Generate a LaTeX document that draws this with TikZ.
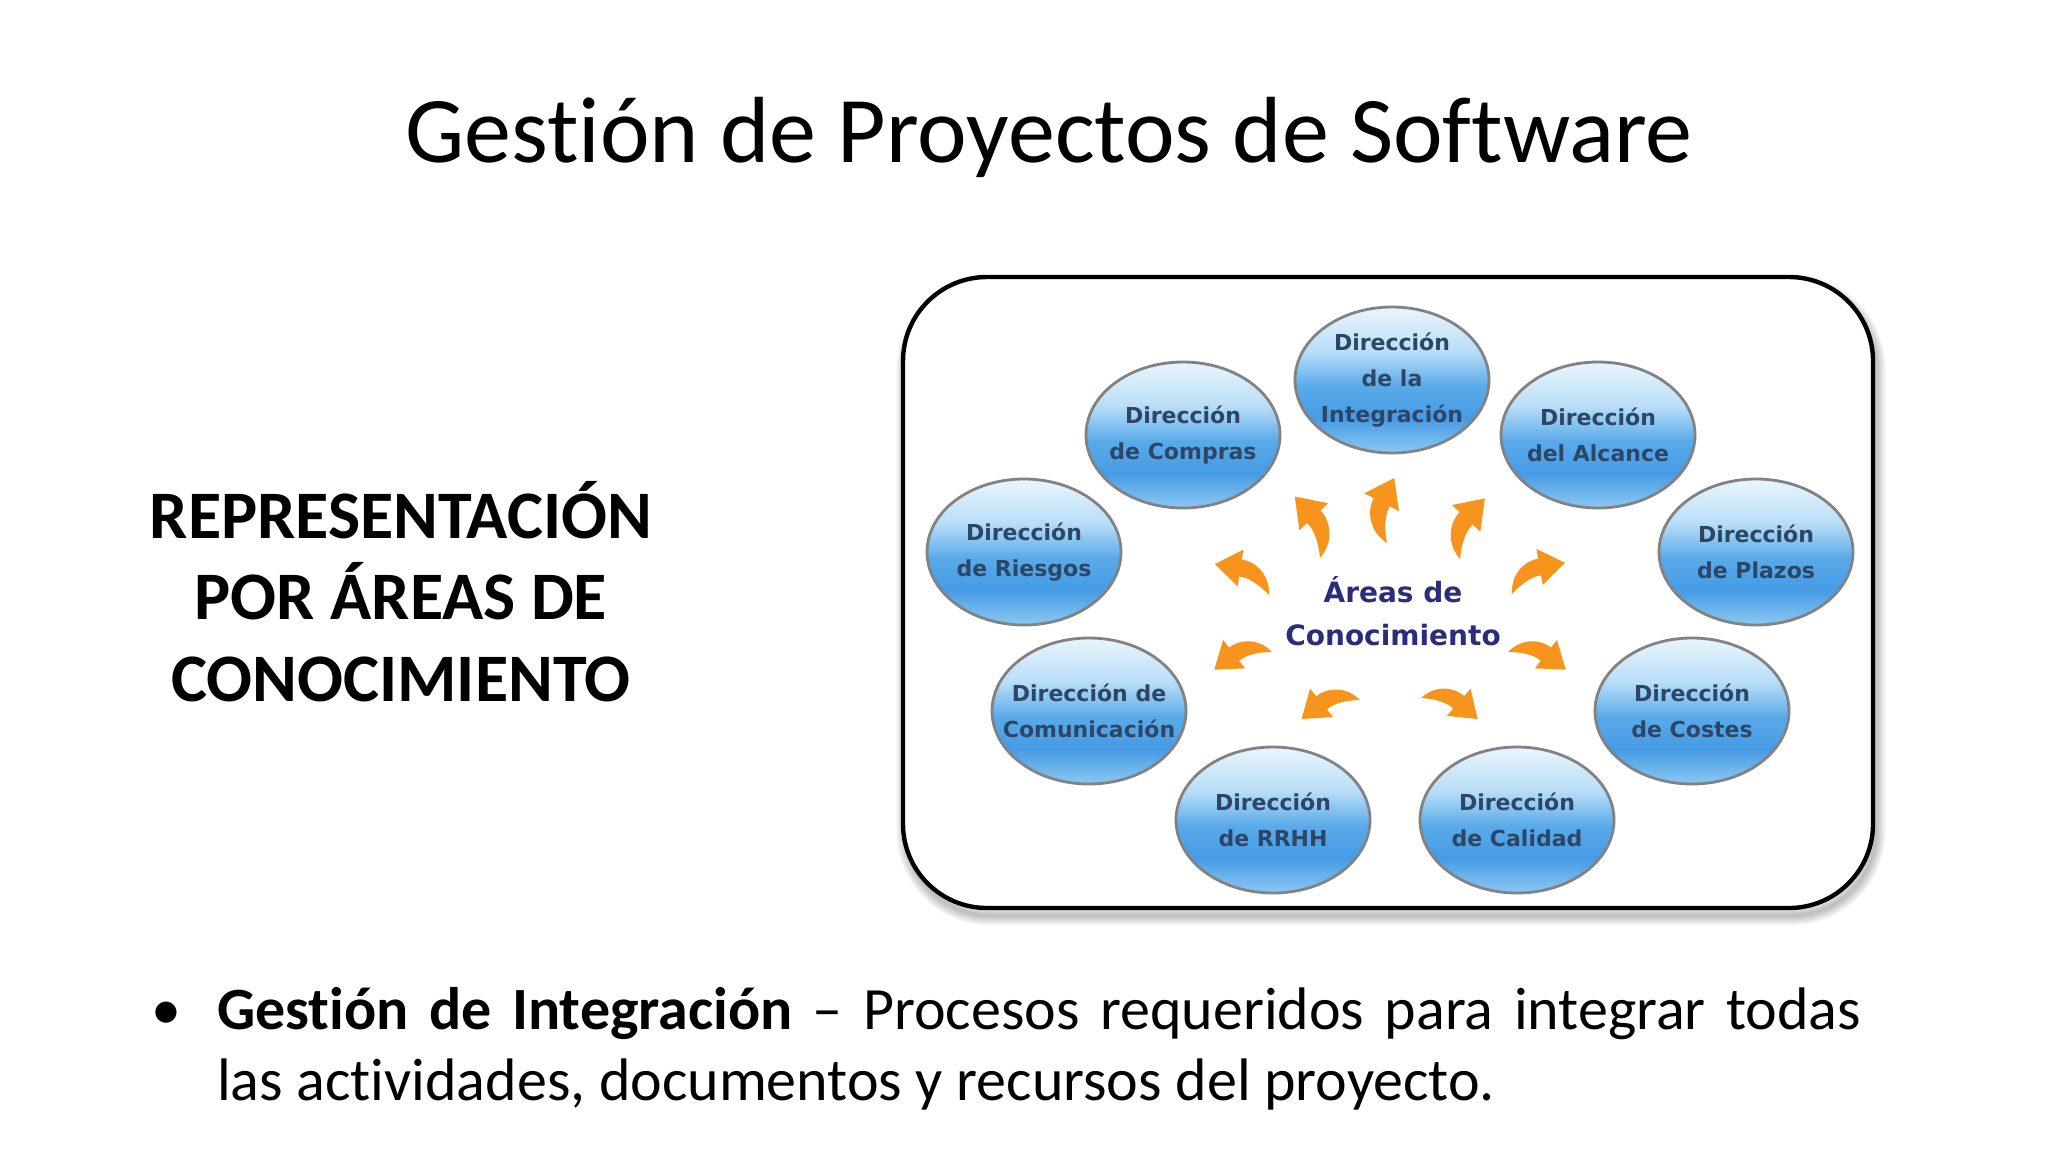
\documentclass[tikz,border=0pt]{standalone}
\usepackage{fontspec}
\setmainfont{Carlito}[Ligatures=NoCommon]
\newfontfamily\ballfont{DejaVu Sans}
\usetikzlibrary{shapes.geometric}
\definecolor{ballText}{RGB}{45,70,102}
\definecolor{navyText}{RGB}{42,46,122}
\definecolor{arrowOr}{RGB}{247,148,30}
\definecolor{ballEdge}{RGB}{130,130,130}
\definecolor{bBot}{RGB}{140,200,242}
\definecolor{bLow}{RGB}{70,155,228}
\definecolor{bMid}{RGB}{90,170,233}
\definecolor{bUp}{RGB}{185,222,248}
\definecolor{bTop}{RGB}{234,245,252}
\pgfdeclareverticalshading{ballshade}{100bp}{color(0bp)=(bBot); color(25bp)=(bBot); color(37bp)=(bLow); color(48bp)=(bMid); color(60bp)=(bUp); color(75bp)=(bTop); color(100bp)=(bTop)}
\tikzset{
  ball/.style={ellipse, draw=ballEdge, line width=1.4pt, shading=ballshade,
    minimum width=97pt, minimum height=73pt, inner sep=0pt, inner xsep=-3pt, align=center,
    font=\ballfont\bfseries\fontsize{11}{18}\selectfont, text=ballText},
  centertext/.style={align=center, text=navyText,
    font=\ballfont\bfseries\fontsize{14}{21.5}\selectfont},
  framebox/.style={rounded corners=42pt, minimum width=485pt, minimum height=315.5pt, inner sep=0pt},
  lefttext/.style={anchor=base, font=\bfseries\fontsize{34}{40}\selectfont},
  bodytext/.style={anchor=base west, font=\fontsize{30}{36}\selectfont},
  carrow/.pic={
    \fill[arrowOr, yscale=-1] (0,0) .. controls (0.12,0.3) and (0.42,0.4) .. (0.639,0.334)
      -- (0.684,0.488) -- (1.003,0.082) -- (0.516,-0.088) -- (0.561,0.066)
      .. controls (0.42,0.12) and (0.2,0.08) .. (0,0) -- cycle;
  }
}
\begin{document}
\begin{tikzpicture}[x=0.5pt,y=-0.5pt]
\useasboundingbox[fill=white] (0,0) rectangle (2048,1152);

% title
\node[anchor=base, font=\fontsize{47}{56}\selectfont] (title) at (1049,162) {Gestión de Proyectos de Software};

% left text
\node[lefttext] (lt1) at (401,538) {REPRESENTACIÓN};
\node[lefttext] (lt2) at (401,619) {POR ÁREAS DE};
\node[lefttext] (lt3) at (401,701) {CONOCIMIENTO};

% frame shadow and frame
\foreach \i in {1,...,6}
  \node[framebox, draw=black, draw opacity=0.045, line width=\i*1.6pt] (sh\i) at (1391,600) {};
\node[framebox, draw=black, fill=white, line width=2.2pt] (frame) at (1388,592.5) {};

% ellipses
\node[ball] (integ) at (1392,380) {Dirección\\de la\\Integración};
\node[ball] (comp)  at (1183,435) {Dirección\\de Compras};
\node[ball] (alc)   at (1598,435) {Dirección\\del Alcance};
\node[ball] (ries)  at (1024,552) {Dirección\\de Riesgos};
\node[ball] (plaz)  at (1756,552) {Dirección\\de Plazos};
\node[ball, inner xsep=-13pt] (comu)  at (1089,711) {Dirección de\\Comunicación};
\node[ball] (cost)  at (1692,711) {Dirección\\de Costes};
\node[ball] (rrhh)  at (1273,820) {Dirección\\de RRHH};
\node[ball] (cal)   at (1517,820) {Dirección\\de Calidad};

% center
\node[centertext] (areas) at (1393,611) {Áreas de\\Conocimiento};

% arrows
\pic[rotate=117, scale=66, yscale=-1] at (1320,558) {carrow};
\pic[rotate=79, scale=65] at (1387,543) {carrow};
\pic[rotate=63, scale=65] at (1460,559) {carrow};
\pic[rotate=155, scale=62, yscale=-1] at (1269,595) {carrow};
\pic[rotate=26, scale=61] at (1512,594) {carrow};
\pic[rotate=201.7, scale=60, yscale=-1] at (1272,652) {carrow};
\pic[rotate=-21.7, scale=60] at (1508,652) {carrow};
\pic[rotate=202.7, scale=61, yscale=-1] at (1360,700) {carrow};
\pic[rotate=-25, scale=60] at (1421,698) {carrow};

% bullet text
\node[anchor=base, font=\fontsize{30}{36}\selectfont] (bul) at (166,1029) {•};
\node[bodytext] (b1) at (210,1029) {\makebox[822pt][s]{\textbf{Gestión de Integración} – Procesos requeridos para integrar todas}};
\node[bodytext] (b2) at (210,1100) {las actividades, documentos y recursos del proyecto.};
\end{tikzpicture}
\end{document}
